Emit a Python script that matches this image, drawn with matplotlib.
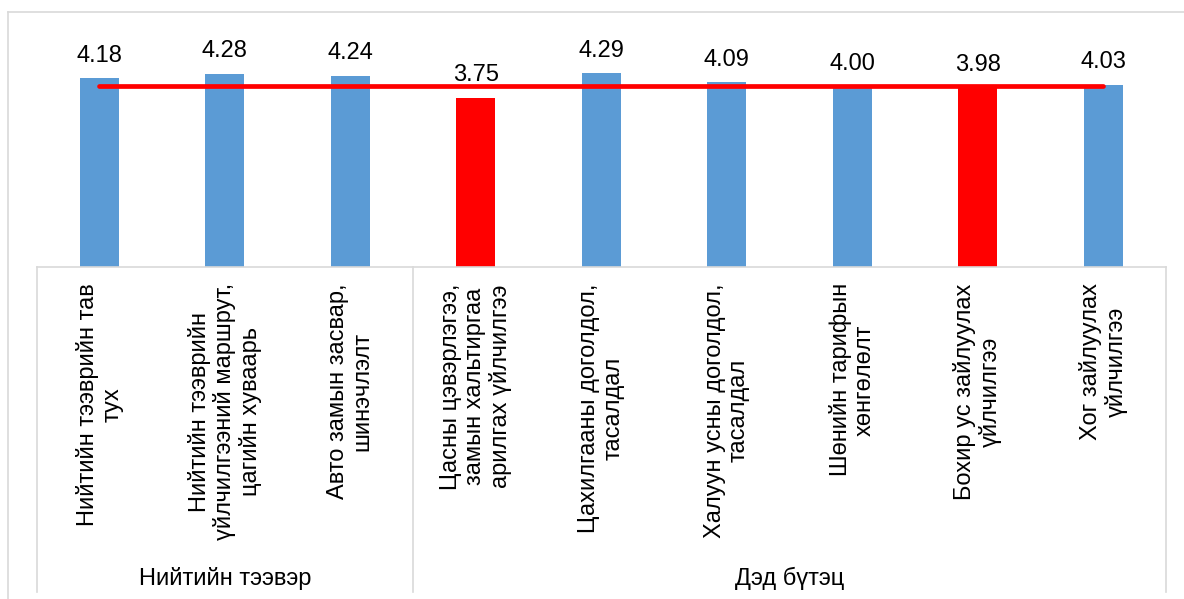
import numpy as np
import matplotlib
matplotlib.use('Agg')
import matplotlib.pyplot as plt
import matplotlib.transforms as mtransforms
from matplotlib.lines import Line2D

plt.rcParams['font.family'] = ['Liberation Sans', 'DejaVu Sans']

# data
labels = ['Нийтийн тээврийн тав\nтух',
          'Нийтийн тээврийн\nүйлчилгээний маршрут,\nцагийн хуваарь',
          'Авто замын засвар,\nшинэчлэлт',
          'Цасны цэвэрлэгээ,\nзамын хальтиргаа\nарилгах үйлчилгээ',
          'Цахилгааны доголдол,\nтасалдал',
          'Халуун усны доголдол,\nтасалдал',
          'Шөнийн тарифын\nхөнгөлөлт',
          'Бохир ус зайлуулах\nүйлчилгээ',
          'Хог зайлуулах\nүйлчилгээ']
scores = [4.18, 4.28, 4.24, 3.75, 4.29, 4.09, 4.00, 3.98, 4.03]
avg_line = [4.00, 4.00, 4.00, 4.00, 4.00, 4.00, 4.00, 4.00, 4.00]
groups = ['Нийтийн тээвэр', 'Дэд бүтэц']
group_sizes = [3, 6]

blue = '#5B9BD5'
red = '#FF0000'
grid_c = '#D9D9D9'
fs = 17

W, H = 1184, 599
fig = plt.figure(figsize=(W / 100, H / 100), dpi=100)

# axes placement in pixels
x0, x1 = 36.7, 1166
ytop, ybase = 41.3, 266.7
ax = fig.add_axes([x0 / W, 1 - ybase / H, (x1 - x0) / W, (ybase - ytop) / H])

x = np.arange(len(scores))
colors = [red if v < avg_line[i] else blue for i, v in enumerate(scores)]
ax.bar(x, scores, width=0.31, color=colors, zorder=2)
ax.plot(x, avg_line, color=red, lw=3.4, solid_capstyle='round', zorder=3)

for xi, v in zip(x, scores):
    ax.annotate('{:.2f}'.format(v), (xi, v), xytext=(0, 12), textcoords='offset points',
                ha='center', va='baseline', fontsize=fs, color='black')

ax.set_xlim(-0.5, len(scores) - 0.5)
ax.set_ylim(0, 5)
ax.set_yticks([])
ax.set_xticks([])
for s in ['top', 'left', 'right']:
    ax.spines[s].set_visible(False)
ax.spines['bottom'].set_color(grid_c)
ax.spines['bottom'].set_linewidth(1.2)

trans = mtransforms.blended_transform_factory(ax.transData, ax.transAxes)
px = 1.0 / (ybase - ytop)  # one pixel in axes fraction

# category labels
for xi, lab in zip(x, labels):
    ax.text(xi, -16.5 * px, lab, rotation=90, ha='center', va='top',
            multialignment='center', fontsize=fs, linespacing=1.15, transform=trans)

# group boxes and labels
edges = np.concatenate([[0], np.cumsum(group_sizes)]) - 0.5
for e in edges:
    ax.plot([e, e], [0, -(592 - ybase) * px], color=grid_c, lw=1.2,
            transform=trans, clip_on=False)
for g, a, b in zip(groups, edges[:-1], edges[1:]):
    ax.text((a + b) / 2, -(578 - ybase) * px, g, ha='center', va='center',
            fontsize=fs, transform=trans)

# outer chart border (partly cut off)
fig.add_artist(Line2D([7.7 / W, 1.0], [1 - 12 / H, 1 - 12 / H], color=grid_c, lw=1.2,
                      transform=fig.transFigure))
fig.add_artist(Line2D([7.7 / W, 7.7 / W], [0, 1 - 12 / H], color=grid_c, lw=1.2,
                      transform=fig.transFigure))

fig.savefig('out.png', dpi=100)
